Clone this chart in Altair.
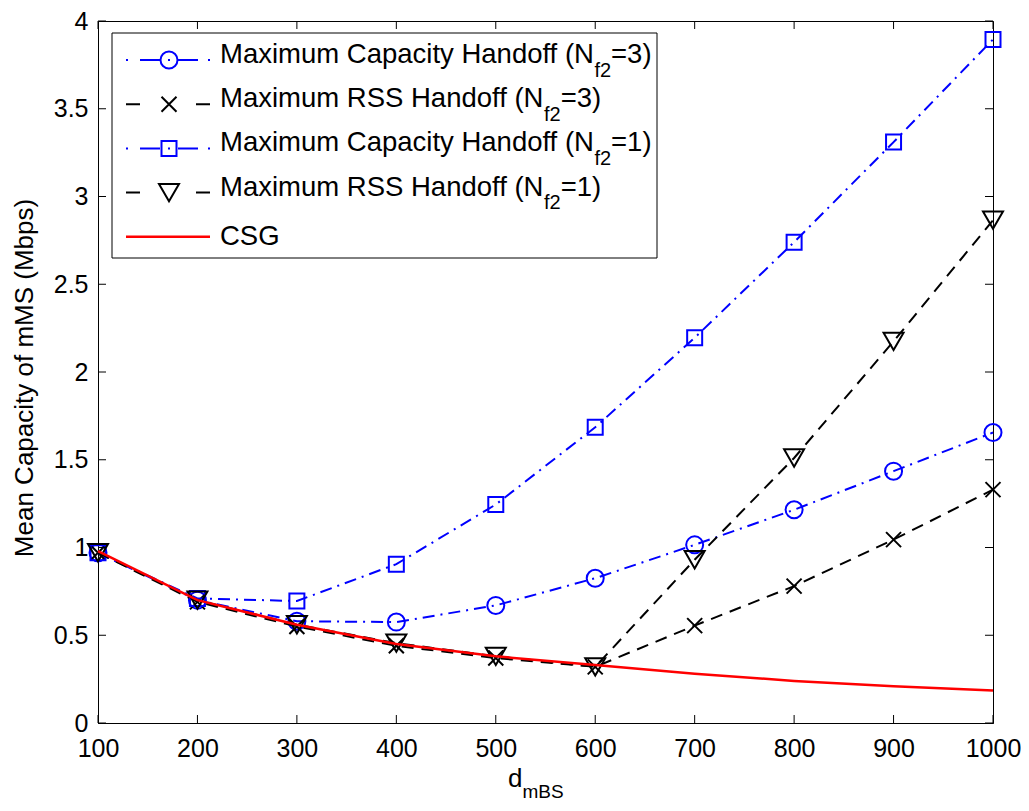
import altair as alt
import pandas as pd

# ---------------- data ----------------
d_mbs = [100, 200, 300, 400, 500, 600, 700, 800, 900, 1000]
cap_nf3 = [0.97, 0.70, 0.58, 0.575, 0.67, 0.825, 1.015, 1.215, 1.435, 1.655]
rss_nf3 = [0.97, 0.69, 0.55, 0.44, 0.37, 0.32, 0.555, 0.78, 1.045, 1.33]
cap_nf1 = [0.97, 0.71, 0.695, 0.905, 1.245, 1.685, 2.195, 2.74, 3.31, 3.895]
rss_nf1 = [0.97, 0.70, 0.56, 0.455, 0.38, 0.32, 0.93, 1.51, 2.175, 2.865]
csg = [0.98, 0.70, 0.56, 0.45, 0.38, 0.33, 0.28, 0.24, 0.21, 0.185]

x_ticks = [100, 200, 300, 400, 500, 600, 700, 800, 900, 1000]
y_ticks = [0, 0.5, 1, 1.5, 2, 2.5, 3, 3.5, 4]

legend_main = ["Maximum Capacity Handoff (N", "Maximum RSS Handoff (N",
               "Maximum Capacity Handoff (N", "Maximum RSS Handoff (N", "CSG"]
legend_sub = ["f2", "f2", "f2", "f2", ""]
legend_tail = ["=3)", "=3)", "=1)", "=1)", ""]
x_title_main = "d"
x_title_sub = "mBS"
y_title = "Mean Capacity of mMS (Mbps)"

# ---------------- style ----------------
FONT = "Liberation Sans, Arial, Helvetica, sans-serif"
PAD_L, PAD_T, PAD_R, PAD_B = 90, 13, 28, 80
W, H = 895, 702
PT = 8 + PAD_T          # page y of the plot top
BLUE, BLACK, RED = "#0000ff", "#000000", "#ff0000"
DASHDOT = [12, 6, 2, 6]
DASHED = [12, 8]
LEG_DASHDOT = [2, 12, 20, 8, 2, 8, 20, 10, 2, 60]
LEG_DASHED = [14, 56, 14, 50]
XSHAPE = "M-1,-1L1,1M-1,1L1,-1"

styles = [
    dict(color=BLUE, dash=DASHDOT, ldash=LEG_DASHDOT, shape="circle", size=289),
    dict(color=BLACK, dash=DASHED, ldash=LEG_DASHED, shape=XSHAPE, size=225),
    dict(color=BLUE, dash=DASHDOT, ldash=LEG_DASHDOT, shape="square", size=225),
    dict(color=BLACK, dash=DASHED, ldash=LEG_DASHED, shape="triangle-down", size=400),
    dict(color=RED, dash=None, ldash=None, shape=None, size=0),
]
series = [cap_nf3, rss_nf3, cap_nf1, rss_nf1, csg]

xs = alt.Scale(domain=[100, 1000], nice=False, zero=False)
ys = alt.Scale(domain=[0, 4], nice=False, zero=False)
x_axis = alt.Axis(values=x_ticks, format="d", title=None, grid=False, ticks=False,
                  labelFontSize=25, labelFont=FONT, labelColor="black", labelPadding=13,
                  labelFlush=False, labelOverlap=False, domainColor="black", domainWidth=1)
y_axis = alt.Axis(values=y_ticks, format="~g", title=None, grid=False, ticks=False,
                  labelFontSize=25, labelFont=FONT, labelColor="black", labelPadding=10,
                  labelFlush=False, labelOverlap=False, domainColor="black", domainWidth=1)
X = alt.X("x:Q", scale=xs, axis=x_axis)
Y = alt.Y("y:Q", scale=ys, axis=y_axis)

one = pd.DataFrame({"k": [0]})
layers = []

# ---------------- series ----------------
for vals, st in zip(series, styles):
    df = pd.DataFrame({"x": d_mbs, "y": vals})
    lkw = dict(color=st["color"], strokeWidth=2 if st["dash"] else 2.5)
    if st["dash"]:
        lkw["strokeDash"] = st["dash"]
    layers.append(alt.Chart(df).mark_line(**lkw).encode(x=X, y=Y))
    if st["shape"]:
        layers.append(alt.Chart(df).mark_point(shape=st["shape"], size=st["size"], filled=False,
                                               strokeWidth=2, color=st["color"], opacity=1)
                      .encode(x=X, y=Y))

# ---------------- inward ticks (matlab box style) ----------------
TL = 8
xt = pd.DataFrame({"x": x_ticks})
yt = pd.DataFrame({"y": y_ticks})
layers.append(alt.Chart(xt).mark_rule(color="black", strokeWidth=1)
              .encode(x=X, y=alt.value(H), y2=alt.value(H - TL)))
layers.append(alt.Chart(xt).mark_rule(color="black", strokeWidth=1)
              .encode(x=X, y=alt.value(0), y2=alt.value(TL)))
layers.append(alt.Chart(yt).mark_rule(color="black", strokeWidth=1)
              .encode(y=Y, x=alt.value(0), x2=alt.value(TL)))
layers.append(alt.Chart(yt).mark_rule(color="black", strokeWidth=1)
              .encode(y=Y, x=alt.value(W), x2=alt.value(W - TL)))

# ---------------- legend ----------------
AW = {'M': 833, 'a': 556, 'x': 500, 'i': 222, 'm': 833, 'u': 556, ' ': 278, 'C': 722,
      'p': 556, 'c': 500, 't': 278, 'y': 500, 'H': 722, 'n': 556, 'd': 556, 'o': 556,
      'f': 278, '(': 333, 'N': 722, 'R': 722, 'S': 667, '=': 584, '3': 556, '1': 556,
      ')': 333, '2': 556, 'G': 778, 'B': 667, 's': 500, 'b': 556}


def tw(s, fs):
    return sum(AW.get(c, 556) for c in s) * fs / 1000.0


LF, SF = 27.5, 20
layers.append(alt.Chart(one).mark_rect(fill="white", stroke="black", strokeWidth=1)
              .encode(x=alt.value(14), x2=alt.value(559),
                      y=alt.value(33 - PT), y2=alt.value(258 - PT)))
row0, rstep = 60 - PT, 44.2
lx0, lx1, mx, tx = 28, 112, 71, 122
for i, st in enumerate(styles):
    ry = row0 + i * rstep
    rkw = dict(color=st["color"], strokeWidth=2 if st["dash"] else 2.5)
    if st["ldash"]:
        rkw["strokeDash"] = st["ldash"]
    layers.append(alt.Chart(one).mark_rule(**rkw)
                  .encode(x=alt.value(lx0), x2=alt.value(lx1), y=alt.value(ry)))
    if st["shape"]:
        layers.append(alt.Chart(one).mark_point(shape=st["shape"], size=st["size"], filled=False,
                                                strokeWidth=2, color=st["color"], opacity=1)
                      .encode(x=alt.value(mx), y=alt.value(ry)))
    if legend_sub[i]:
        base = ry + 3
        layers.append(alt.Chart(one).mark_text(text=legend_main[i], align="left", baseline="alphabetic",
                                               font=FONT, fontSize=LF, color="black")
                      .encode(x=alt.value(tx), y=alt.value(base)))
        sx = tx + tw(legend_main[i], LF)
        layers.append(alt.Chart(one).mark_text(text=legend_sub[i], align="left", baseline="alphabetic",
                                               font=FONT, fontSize=SF, color="black")
                      .encode(x=alt.value(sx), y=alt.value(ry + 16.5)))
        ex = sx + tw(legend_sub[i], SF)
        layers.append(alt.Chart(one).mark_text(text=legend_tail[i], align="left", baseline="alphabetic",
                                               font=FONT, fontSize=LF, color="black")
                      .encode(x=alt.value(ex), y=alt.value(base)))
    else:
        layers.append(alt.Chart(one).mark_text(text=legend_main[i], align="left", baseline="middle",
                                               font=FONT, fontSize=LF, color="black")
                      .encode(x=alt.value(tx), y=alt.value(ry)))

# ---------------- axis titles ----------------
layers.append(alt.Chart(one).mark_text(text=x_title_main, align="left", baseline="alphabetic",
                                       font=FONT, fontSize=26, color="black")
              .encode(x=alt.value(410), y=alt.value(787 - PT)))
layers.append(alt.Chart(one).mark_text(text=x_title_sub, align="left", baseline="alphabetic",
                                       font=FONT, fontSize=19, color="black")
              .encode(x=alt.value(410 + tw("d", 26)), y=alt.value(798 - PT)))
layers.append(alt.Chart(one).mark_text(text=y_title, align="center", baseline="middle", angle=270,
                                       font=FONT, fontSize=26, color="black")
              .encode(x=alt.value(25 - 98), y=alt.value(378 - PT)))

chart = alt.layer(*layers).properties(
    width=W, height=H,
    autosize=alt.AutoSizeParams(type="none"),
    padding={"left": PAD_L, "top": PAD_T, "right": PAD_R, "bottom": PAD_B},
    background="white",
).configure_view(stroke="black", strokeWidth=1)

chart.save("out.html", embed_options={"renderer": "svg", "actions": False})
